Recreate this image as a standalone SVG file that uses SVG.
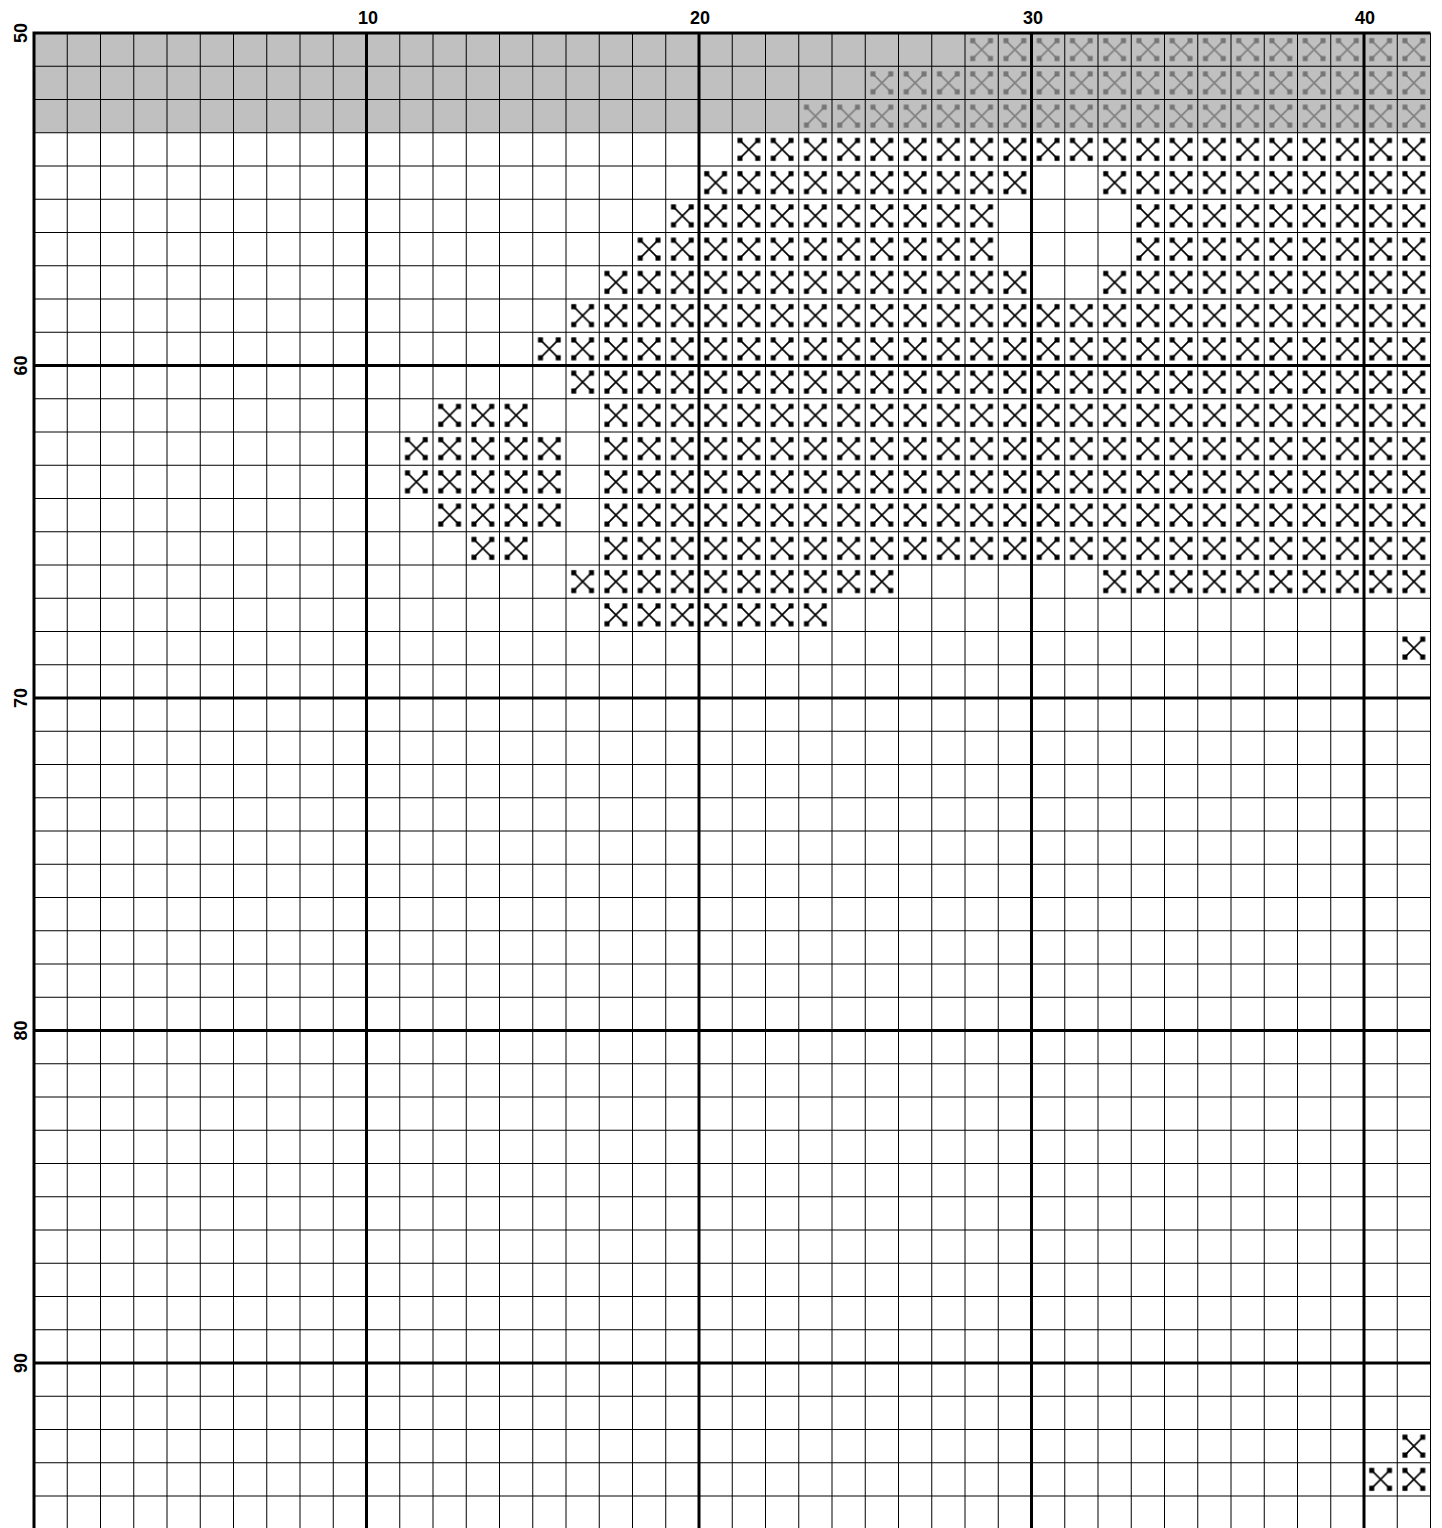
<svg xmlns="http://www.w3.org/2000/svg" width="1442" height="1528" viewBox="0 0 1442 1528">
<style>
.lbl{font-family:"Liberation Sans",Arial,sans-serif;font-weight:bold;font-size:18px;fill:#000;text-anchor:middle}
.minor{stroke:#000;stroke-width:1;fill:none}
.major{stroke:#000;stroke-width:3;fill:none}
</style>
<defs>
<pattern id="pb" patternUnits="userSpaceOnUse" x="34" y="33" width="33.25" height="33.25">
<path d="M7.75 7.75L25.5 25.5M25.5 7.75L7.75 25.5" stroke="#000" stroke-width="1.7" fill="none"/>
<path d="M5.25 5.25h5v5h-5zM23 5.25h5v5h-5zM5.25 23h5v5h-5zM23 23h5v5h-5z" fill="#000"/>
</pattern>
<pattern id="pg" patternUnits="userSpaceOnUse" x="34" y="33" width="33.25" height="33.25">
<path d="M7.75 7.75L25.5 25.5M25.5 7.75L7.75 25.5" stroke="#808080" stroke-width="1.7" fill="none"/>
<path d="M5.25 5.25h5v5h-5zM23 5.25h5v5h-5zM5.25 23h5v5h-5zM23 23h5v5h-5z" fill="#757575"/>
</pattern>
</defs>
<rect width="1442" height="1528" fill="#fff"/>
<g id="shade">
<rect x="34" y="33" width="1396.5" height="99.75" fill="#c0c0c0"/>
</g>
<g id="stitches-grey" fill="url(#pg)">
<rect x="965" y="33" width="465.5" height="33.25"/>
<rect x="865.25" y="66.25" width="565.25" height="33.25"/>
<rect x="798.75" y="99.5" width="631.75" height="33.25"/>
</g>
<g id="stitches" fill="url(#pb)">
<rect x="732.25" y="132.75" width="698.25" height="33.25"/>
<rect x="699" y="166" width="332.5" height="33.25"/>
<rect x="1098" y="166" width="332.5" height="33.25"/>
<rect x="665.75" y="199.25" width="332.5" height="33.25"/>
<rect x="1131.25" y="199.25" width="299.25" height="33.25"/>
<rect x="632.5" y="232.5" width="365.75" height="33.25"/>
<rect x="1131.25" y="232.5" width="299.25" height="33.25"/>
<rect x="599.25" y="265.75" width="432.25" height="33.25"/>
<rect x="1098" y="265.75" width="332.5" height="33.25"/>
<rect x="566" y="299" width="864.5" height="33.25"/>
<rect x="532.75" y="332.25" width="897.75" height="33.25"/>
<rect x="566" y="365.5" width="864.5" height="33.25"/>
<rect x="433" y="398.75" width="99.75" height="33.25"/>
<rect x="599.25" y="398.75" width="831.25" height="166.25"/>
<rect x="399.75" y="432" width="166.25" height="66.5"/>
<rect x="433" y="498.5" width="133" height="33.25"/>
<rect x="466.25" y="531.75" width="66.5" height="33.25"/>
<rect x="566" y="565" width="332.5" height="33.25"/>
<rect x="1098" y="565" width="332.5" height="33.25"/>
<rect x="599.25" y="598.25" width="232.75" height="33.25"/>
<rect x="1397.25" y="631.5" width="33.25" height="33.25"/>
<rect x="1397.25" y="1429.5" width="33.25" height="33.25"/>
<rect x="1364" y="1462.75" width="66.5" height="33.25"/>
</g>
<g id="grid">
<path class="minor" d="M67.25 33V1528M100.5 33V1528M133.75 33V1528M167 33V1528M200.25 33V1528M233.5 33V1528M266.75 33V1528M300 33V1528M333.25 33V1528M399.75 33V1528M433 33V1528M466.25 33V1528M499.5 33V1528M532.75 33V1528M566 33V1528M599.25 33V1528M632.5 33V1528M665.75 33V1528M732.25 33V1528M765.5 33V1528M798.75 33V1528M832 33V1528M865.25 33V1528M898.5 33V1528M931.75 33V1528M965 33V1528M998.25 33V1528M1064.75 33V1528M1098 33V1528M1131.25 33V1528M1164.5 33V1528M1197.75 33V1528M1231 33V1528M1264.25 33V1528M1297.5 33V1528M1330.75 33V1528M1397.25 33V1528M1430.5 33V1528"/>
<path class="minor" d="M34 66.25H1430.5M34 99.5H1430.5M34 132.75H1430.5M34 166H1430.5M34 199.25H1430.5M34 232.5H1430.5M34 265.75H1430.5M34 299H1430.5M34 332.25H1430.5M34 398.75H1430.5M34 432H1430.5M34 465.25H1430.5M34 498.5H1430.5M34 531.75H1430.5M34 565H1430.5M34 598.25H1430.5M34 631.5H1430.5M34 664.75H1430.5M34 731.25H1430.5M34 764.5H1430.5M34 797.75H1430.5M34 831H1430.5M34 864.25H1430.5M34 897.5H1430.5M34 930.75H1430.5M34 964H1430.5M34 997.25H1430.5M34 1063.75H1430.5M34 1097H1430.5M34 1130.25H1430.5M34 1163.5H1430.5M34 1196.75H1430.5M34 1230H1430.5M34 1263.25H1430.5M34 1296.5H1430.5M34 1329.75H1430.5M34 1396.25H1430.5M34 1429.5H1430.5M34 1462.75H1430.5M34 1496H1430.5"/>
<path class="major" d="M34 31.5V1528M366.5 31.5V1528M699 31.5V1528M1031.5 31.5V1528M1364 31.5V1528M32.5 33H1430.5M32.5 365.5H1430.5M32.5 698H1430.5M32.5 1030.5H1430.5M32.5 1363H1430.5"/>
</g>
<g id="labels">
<text class="lbl" x="368" y="24">10</text>
<text class="lbl" x="700" y="24">20</text>
<text class="lbl" x="1033" y="24">30</text>
<text class="lbl" x="1365" y="24">40</text>
<text class="lbl" transform="translate(27,33) rotate(-90)">50</text>
<text class="lbl" transform="translate(27,365.5) rotate(-90)">60</text>
<text class="lbl" transform="translate(27,698) rotate(-90)">70</text>
<text class="lbl" transform="translate(27,1030.5) rotate(-90)">80</text>
<text class="lbl" transform="translate(27,1363) rotate(-90)">90</text>
</g>
</svg>
